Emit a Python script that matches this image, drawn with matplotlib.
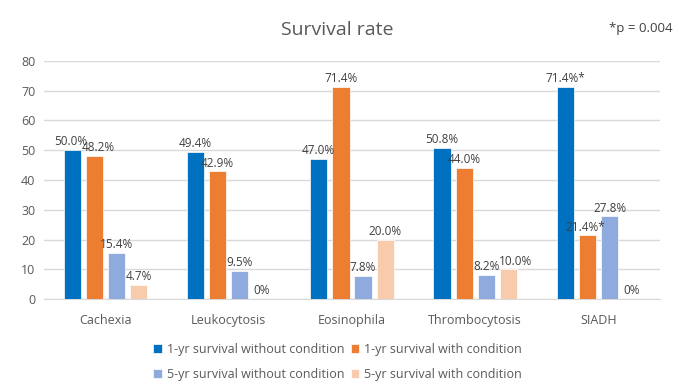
import matplotlib.pyplot as plt
import numpy as np

plt.rcParams['font.family'] = ['Open Sans', 'DejaVu Sans']

categories = ['Cachexia', 'Leukocytosis', 'Eosinophila', 'Thrombocytosis', 'SIADH']
series_names = ['1-yr survival without condition', '1-yr survival with condition',
                '5-yr survival without condition', '5-yr survival with condition']
one_yr_without = [50.0, 49.4, 47.0, 50.8, 71.4]
one_yr_with = [48.2, 42.9, 71.4, 44.0, 21.4]
five_yr_without = [15.4, 9.5, 7.8, 8.2, 27.8]
five_yr_with = [4.7, 0, 20.0, 10.0, 0]
# significant differences get an asterisk on their label
starred = {(0, 4), (1, 4)}
# small horizontal nudges (in category units) so crowded labels don't collide
nudge = {(1, 0): 0.035, (3, 3): 0.06, (1, 4): -0.02, (0, 0): -0.01}

colors = ['#0070C0', '#ED7D31', '#8FAADC', '#F8CBAD']
series = [one_yr_without, one_yr_with, five_yr_without, five_yr_with]

fig = plt.figure(figsize=(6.75, 3.81), dpi=100)
ax = fig.add_axes([0.065, 0.215, 0.913, 0.625])

x = np.arange(len(categories))
step = 0.18
width = 0.14
handles = []
for i, (vals, col, name) in enumerate(zip(series, colors, series_names)):
    pos = x + (i - 1.5) * step
    b = ax.bar(pos, vals, width, color=col, edgecolor='white', linewidth=0.5, label=name, zorder=3)
    handles.append(b)
    for j, (p, v) in enumerate(zip(pos, vals)):
        txt = '0%' if v == 0 else f'{v:.1f}%'
        if (i, j) in starred:
            txt += '*'
        ax.text(p + nudge.get((i, j), 0), v + 0.6, txt, ha='center', va='bottom',
                fontsize=8.5, color='#404040', zorder=4)

ax.set_xlim(-0.5, len(categories) - 0.5)
ax.set_ylim(0, 80)
ax.set_yticks(range(0, 81, 10))
ax.set_xticks(x, categories)
ax.tick_params(axis='both', length=0, labelsize=9, labelcolor='#595959')
ax.tick_params(axis='x', pad=11)
ax.tick_params(axis='y', pad=6)
ax.grid(axis='y', color='#D9D9D9', linewidth=1, zorder=0)
for s in ['top', 'right', 'left']:
    ax.spines[s].set_visible(False)
ax.spines['bottom'].set_color('#D9D9D9')

fig.text(0.5, 0.92, 'Survival rate', ha='center', va='center', fontsize=14, color='#595959')
fig.text(0.996, 0.925, '*p = 0.004', ha='right', va='center', fontsize=9.5, color='#404040')

# legend filled row by row: 1-yr pair on top, 5-yr pair below
order = [0, 2, 1, 3]
fig.legend([handles[k] for k in order], [series_names[k] for k in order],
           loc='center', bbox_to_anchor=(0.5, 0.05), ncol=2, frameon=False, fontsize=9,
           handlelength=0.7, handleheight=0.7, handletextpad=0.4, columnspacing=0.5,
           labelspacing=1.0, labelcolor='#595959')

fig.savefig('out.png', dpi=100)
